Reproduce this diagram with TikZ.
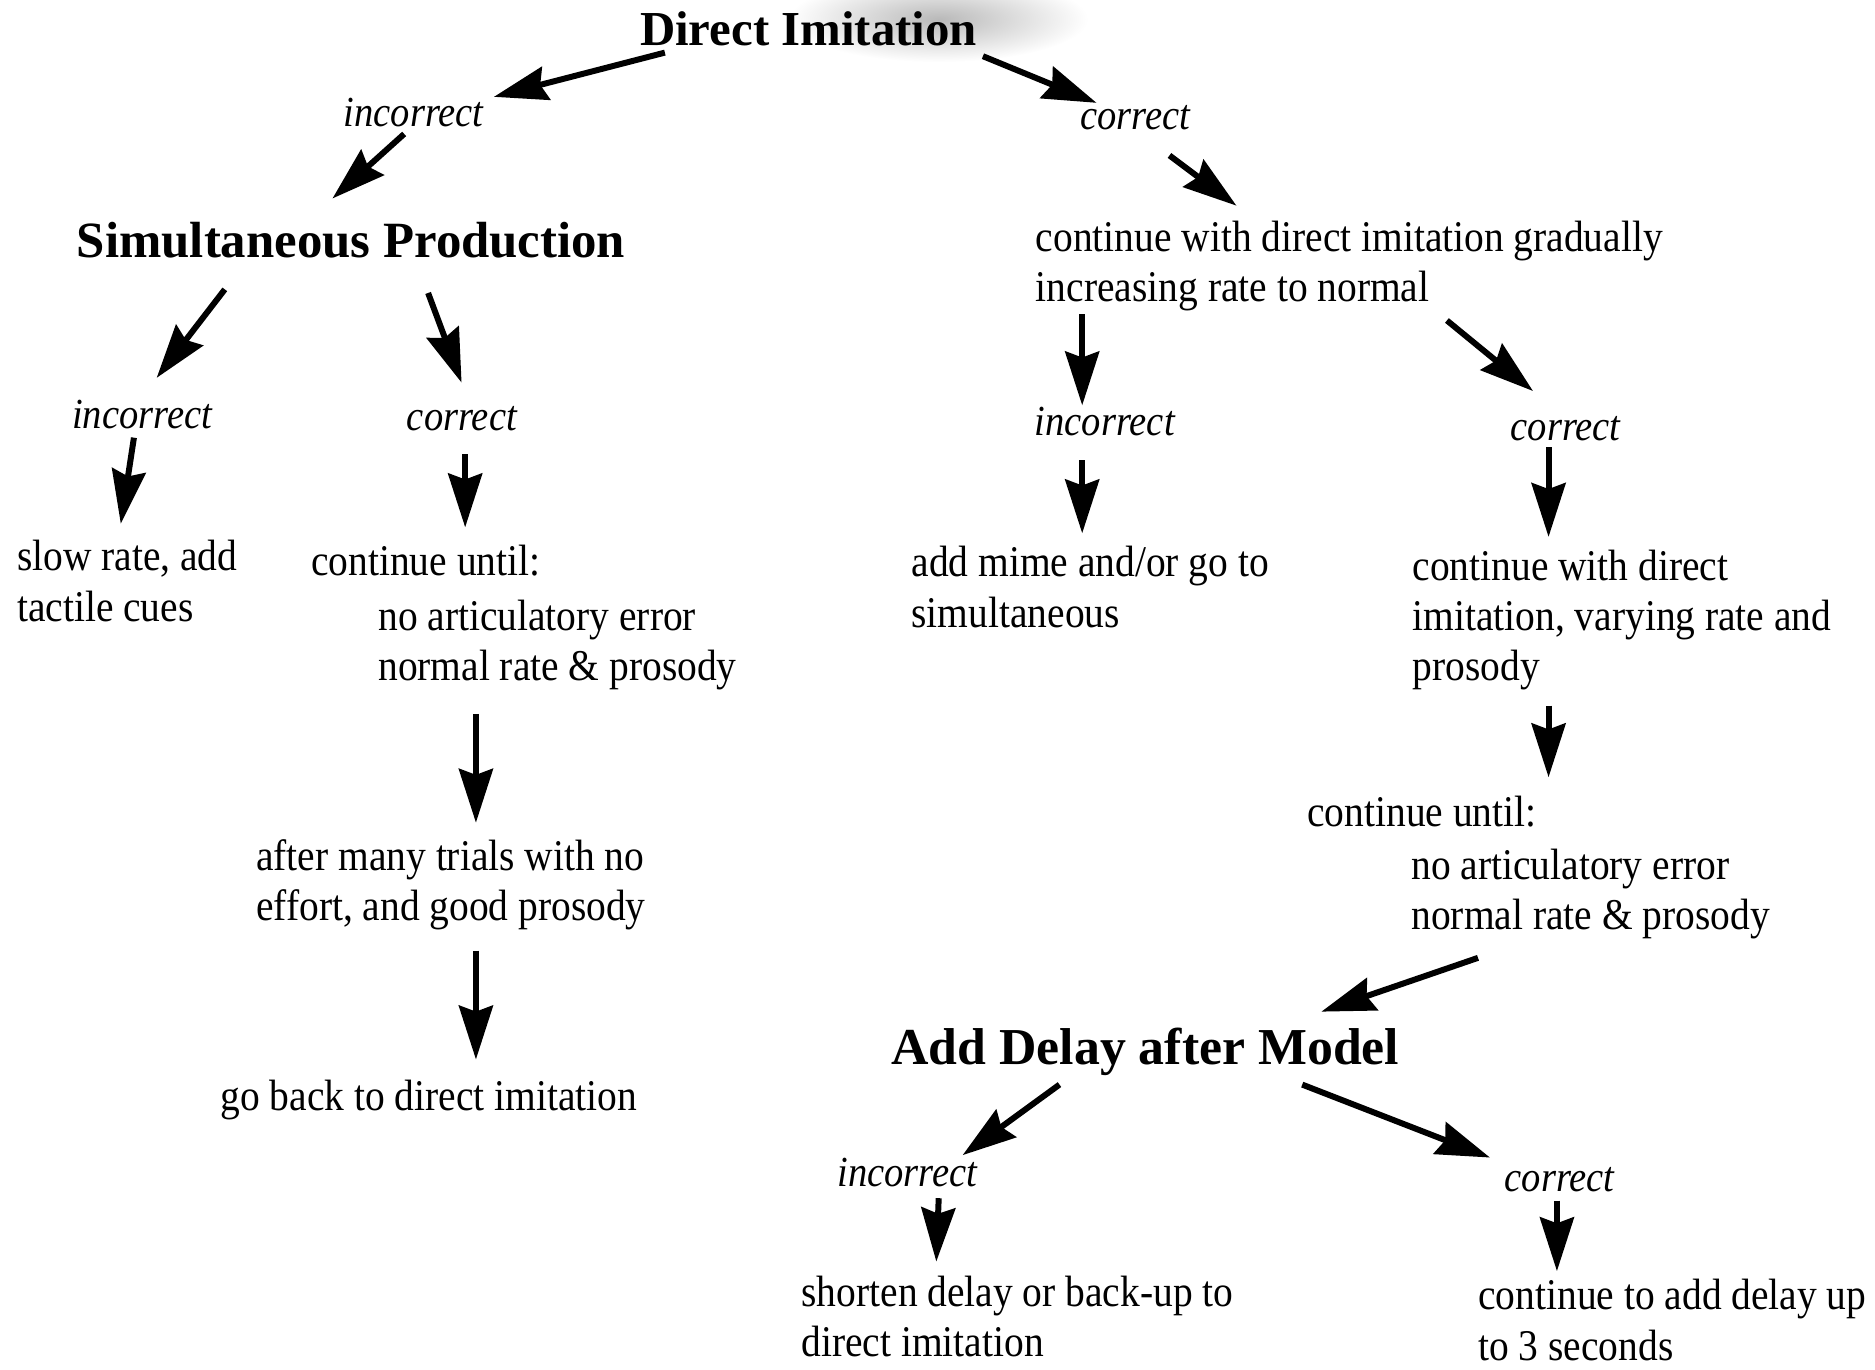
\documentclass[tikz,border=0pt]{standalone}
\usepackage{fontspec}
\usetikzlibrary{arrows.meta}
\newfontfamily\bodyfont[FakeStretch=0.9]{Liberation Serif}
\newfontfamily\headfont{Liberation Serif}
\tikzset{
  body/.style={font=\bodyfont\fontsize{22}{25.2}\selectfont, inner sep=0pt, align=left, anchor=north west, execute at begin node=\strut},
  lbl/.style={font=\bodyfont\itshape\fontsize{21.5}{24}\selectfont, inner sep=0pt, anchor=base west},
  head/.style={font=\headfont\bfseries\fontsize{25.5}{30}\selectfont, inner sep=0pt, anchor=base west},
  arr/.style={line width=3pt, -{Stealth[length=27pt,width=17pt,inset=3pt]}}
}
\begin{document}
\begin{tikzpicture}[x=0.6pt,y=-0.6pt]
\useasboundingbox (0,0) rectangle (1568,1145);
% scan smudge behind the title
\shade[inner color=gray!55, outer color=white] (785,16) ellipse [x radius=125, y radius=36];

% headings
\node[head, font=\headfont\bfseries\fontsize{24.5}{30}\selectfont] (di) at (535,38) {Direct Imitation};
\node[head] (sp) at (64,215) {Simultaneous Production};
\node[head, font=\headfont\bfseries\fontsize{26}{30}\selectfont] (ad) at (745,890) {Add Delay after Model};

% branch labels
\node[lbl] (l1) at (287,106) {incorrect};
\node[lbl] (l2) at (903,108) {correct};
\node[lbl] (l3) at (60,358) {incorrect};
\node[lbl] (l4) at (340,360) {correct};
\node[lbl] (l5) at (865,364) {incorrect};
\node[lbl] (l6) at (1263,368) {correct};
\node[lbl] (l7) at (700,992) {incorrect};
\node[lbl] (l8) at (1258,996) {correct};

% body texts
\node[body] (cg) at (866,184.6) {continue with direct imitation gradually\\increasing rate to normal};
\node[body] (slow) at (14,451.6) {slow rate, add\\tactile cues};
\node[body] (cu1) at (260,451.6) {continue until:};
\node[body] (cu1b) at (316,501.6) {no articulatory error\\normal rate \& prosody};
\node[body] (after) at (214,701.6) {after many trials with no\\effort, and good prosody};
\node[body] (goback) at (184,898.6) {go back to direct imitation};
\node[body] (mime) at (762,456.6) {add mime and/or go to\\simultaneous};
\node[body] (cwd) at (1181,459.6) {continue with direct\\imitation, varying rate and\\prosody};
\node[body] (cu2) at (1093,661.6) {continue until:};
\node[body] (cu2b) at (1180,709.6) {no articulatory error\\normal rate \& prosody};
\node[body] (shorten) at (670,1066.6) {shorten delay or back-up to\\direct imitation};
\node[body] (cta) at (1236,1069.6) {continue to add delay up\\to 3 seconds};

% arrow end points
\coordinate (a1s) at (556,44);   \coordinate (a1e) at (413,81);
\coordinate (a2s) at (338,112);  \coordinate (a2e) at (278,166);
\coordinate (a3s) at (822,47);   \coordinate (a3e) at (917,86);
\coordinate (a4s) at (978,130);  \coordinate (a4e) at (1034,172);
\coordinate (a5s) at (188,242);  \coordinate (a5e) at (131,316);
\coordinate (a6s) at (358,245);  \coordinate (a6e) at (386,320);
\coordinate (a7s) at (112,366);  \coordinate (a7e) at (101,438);
\coordinate (a8s) at (389,380);  \coordinate (a8e) at (389,441);
\coordinate (a9s) at (398,597);  \coordinate (a9e) at (398,688);
\coordinate (a10s) at (398,795); \coordinate (a10e) at (398,886);
\coordinate (a11s) at (905,263); \coordinate (a11e) at (905,339);
\coordinate (a12s) at (1210,268);\coordinate (a12e) at (1282,327);
\coordinate (a13s) at (905,385); \coordinate (a13e) at (905,446);
\coordinate (a14s) at (1295,374);\coordinate (a14e) at (1295,449);
\coordinate (a15s) at (1295,590);\coordinate (a15e) at (1295,650);
\coordinate (a16s) at (1236,801);\coordinate (a16e) at (1105,846);
\coordinate (a17s) at (886,907); \coordinate (a17e) at (805,966);
\coordinate (a18s) at (1089,907);\coordinate (a18e) at (1246,968);
\coordinate (a19s) at (785,1002);\coordinate (a19e) at (783,1055);
\coordinate (a20s) at (1302,1004);\coordinate (a20e) at (1302,1063);

\foreach \i in {1,...,20} \draw[arr] (a\i s) -- (a\i e);
\end{tikzpicture}
\end{document}
